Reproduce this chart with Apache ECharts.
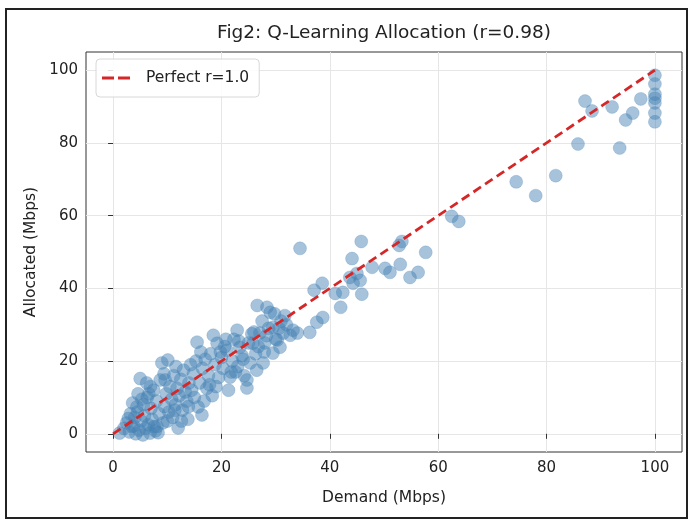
<!DOCTYPE html>
<html>
<head>
<meta charset="utf-8">
<script src="https://cdn.jsdelivr.net/npm/echarts@6/dist/echarts.min.js"></script>
<style>html,body{margin:0;padding:0;background:#fff}#c{width:690px;height:522px}</style>
</head>
<body>
<div id="c"></div>
<script>
const titleText = "Fig2: Q-Learning Allocation (r=0.98)";
const xName = "Demand (Mbps)";
const yName = "Allocated (Mbps)";
const legendName = "Perfect r=1.0";
const tickValues = [0, 20, 40, 60, 80, 100];
const perfectX = [0, 100];
const perfectY = [0, 100];

const demand = [
  1.2, 2.0, 2.5, 3.0, 3.2, 3.5, 4.0, 4.2, 4.4, 4.5, 4.8, 5.0, 5.2, 5.5, 5.6, 5.8, 6.0, 6.2, 6.3, 6.5,
  6.8, 7.0, 7.2, 7.5, 7.8, 8.0, 8.3, 8.5, 8.7, 9.0, 9.2, 9.5, 9.6, 9.8, 10.1, 10.3, 10.5, 10.8, 11.0, 11.2,
  11.5, 11.8, 12.0, 12.2, 12.5, 12.8, 13.0, 13.3, 13.6, 14.0, 14.3, 14.5, 14.8, 15.0, 15.5, 15.7, 16.0, 16.4, 16.5, 17.0,
  17.3, 17.6, 18.0, 18.5, 18.8, 19.2, 19.5, 20.0, 20.3, 20.6, 21.0, 21.3, 21.6, 22.0, 22.3, 22.9, 23.0, 23.4, 23.8, 24.2,
  24.7, 24.7, 25.0, 25.3, 25.8, 26.0, 26.3, 26.6, 27.1, 27.5, 27.7, 28.0, 28.4, 28.7, 29.0, 29.5, 29.5, 30.0, 30.3, 30.8,
  31.0, 31.4, 32.0, 32.7, 33.2, 34.0, 3.8, 5.3, 7.6, 10.0, 13.8, 16.8, 19.8, 22.6, 26.8, 2.8, 6.6, 11.4, 17.8, 24.0,
  3.6, 4.6, 6.9, 8.1, 9.4, 11.6, 12.6, 13.9, 15.3, 16.2, 18.3, 19.0, 20.8, 21.8, 23.2, 25.6, 26.5, 27.9, 28.3, 30.6, 29.8, 31.7,
  34.5, 36.3, 37.1, 37.6, 38.6, 38.7, 41.0, 42.0, 42.4, 43.7, 44.1, 44.3, 45.0, 45.6, 45.8, 45.9, 47.8, 50.2, 51.1, 52.8,
  53.0, 53.3, 54.8, 56.3, 57.7, 62.5, 63.8, 74.4, 78.0, 81.7, 85.8, 87.1, 88.4, 92.1, 93.5, 94.6, 95.9, 97.4,
  100, 100, 100, 100, 100, 100, 100
];
const allocated = [
  0.2, 1.5, 3.0, 0.5, 5.5, 2.0, 4.5, 0.0, 7.4, 6.0, 1.0, 15.2, 3.5, -0.3, 8.0, 5.0, 1.5, 14.0, 10.0, 2.5,
  0.2, 7.0, 4.0, 12.0, 0.8, 9.0, 0.3, 5.5, 14.8, 19.5, 3.0, 7.5, 14.8, 11.0, 20.3, 6.0, 13.0, 9.5, 4.5, 16.0,
  8.0, 12.5, 1.6, 10.5, 15.0, 6.5, 17.5, 11.5, 9.0, 14.0, 19.0, 12.0, 16.5, 10.0, 25.2, 7.4, 14.0, 5.2, 18.0, 20.5,
  12.5, 16.0, 22.0, 27.1, 19.0, 24.9, 15.5, 21.0, 18.0, 24.0, 23.0, 12.0, 15.6, 20.0, 26.0, 28.5, 18.5, 23.8, 21.5, 16.0,
  12.6, 14.8, 25.0, 19.5, 24.9, 28.0, 22.0, 35.3, 27.7, 31.0, 19.5, 25.0, 34.8, 29.0, 33.4, 22.2, 29.3, 26.0, 25.8, 23.8,
  31.0, 27.7, 30.0, 27.1, 28.5, 27.7, 2.2, 9.5, 2.0, 3.5, 4.0, 9.0, 22.5, 17.0, 24.0, 4.2, 11.0, 6.5, 13.5, 20.5,
  8.5, 11.0, 13.0, 2.0, 16.5, 18.5, 3.5, 7.5, 20.0, 22.5, 10.5, 13.0, 26.0, 17.0, 25.5, 27.5, 17.5, 22.5, 27.0, 29.0, 33.0, 32.5,
  51.0, 27.9, 39.5, 30.7, 41.4, 32.0, 38.6, 34.8, 38.9, 43.0, 48.2, 41.4, 44.1, 42.2, 52.9, 38.4, 45.8, 45.5, 44.4, 51.8,
  46.6, 52.9, 43.0, 44.4, 49.9, 59.8, 58.4, 69.3, 65.5, 71.0, 79.7, 91.5, 88.8, 89.9, 78.6, 86.3, 88.2, 92.1,
  98.6, 96.2, 93.4, 92.3, 91.0, 88.2, 85.8
];

const pts = demand.map((d, i) => [d, allocated[i]]);
const linePts = perfectX.map((d, i) => [d, perfectY[i]]);

const chart = echarts.init(document.getElementById('c'), null, {renderer: 'canvas'});
const FONT = 'DejaVu Sans';
chart.setOption({
  animation: false,
  backgroundColor: '#fff',
  textStyle: {fontFamily: FONT},
  graphic: [
    {type: 'rect', silent: true, z: -10, shape: {x: 6, y: 9, width: 681, height: 509},
     style: {fill: '#fff', stroke: '#222', lineWidth: 2}},
    {type: 'text', x: 384, y: 33,
     style: {text: titleText, fill: '#222', font: '18.5px "DejaVu Sans"', align: 'center', verticalAlign: 'middle'}}
  ],
  grid: {left: 86, top: 52, width: 596, height: 400, show: true, borderColor: '#333', borderWidth: 1, backgroundColor: 'transparent'},
  legend: {
    show: true,
    left: 96, top: 59, padding: [11, 10, 11, 6], itemWidth: 28, itemHeight: 3, itemGap: 10,
    borderColor: '#d8d8d8', borderWidth: 1, borderRadius: 4, backgroundColor: 'rgba(255,255,255,0.85)',
    textStyle: {fontSize: 15.5, color: '#222', fontFamily: FONT, padding: [0, 0, 0, 11]},
    itemStyle: {color: '#d62728', borderWidth: 0},
    lineStyle: {opacity: 0},
    data: [{name: legendName, icon: 'path://M0,0h12v3h-12z M16,0h12v3h-12z'}]
  },
  xAxis: {
    type: 'value', min: -5, max: 105,
    name: xName, nameLocation: 'middle', nameGap: 38,
    nameTextStyle: {fontSize: 15.5, color: '#222', fontFamily: FONT},
    axisLine: {show: false},
    axisTick: {show: true, length: 5, lineStyle: {color: '#333'}, customValues: tickValues},
    axisLabel: {fontSize: 15, color: '#222', margin: 9, customValues: tickValues, fontFamily: FONT},
    splitLine: {show: true, lineStyle: {color: '#e6e6e6', width: 1}}
  },
  yAxis: {
    type: 'value', min: -5, max: 105,
    name: yName, nameLocation: 'middle', nameGap: 44,
    nameTextStyle: {fontSize: 15.5, color: '#222', fontFamily: FONT},
    axisLine: {show: false},
    axisTick: {show: true, length: 5, lineStyle: {color: '#333'}, customValues: tickValues},
    axisLabel: {fontSize: 15, color: '#222', margin: 8, customValues: tickValues, fontFamily: FONT},
    splitLine: {show: true, lineStyle: {color: '#e6e6e6', width: 1}}
  },
  series: [
    {
      type: 'scatter', name: 'points', data: pts, symbolSize: 13,
      itemStyle: {color: 'rgba(70,130,180,0.6)', borderColor: 'rgba(70,130,180,0.6)', borderWidth: 0.5}, z: 2
    },
    {
      type: 'line', name: legendName, data: linePts, symbol: 'none', z: 3,
      lineStyle: {color: '#d62728', width: 2.8, type: [9, 5]},
      itemStyle: {color: '#d62728'}
    }
  ]
});
</script>
</body>
</html>
